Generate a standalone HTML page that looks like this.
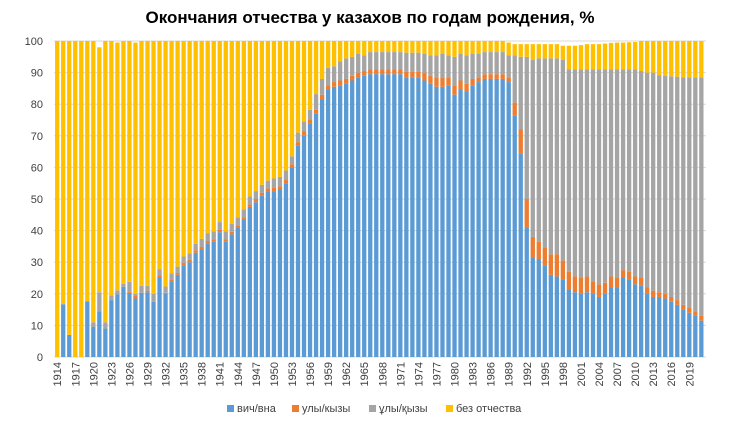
<!DOCTYPE html>
<html><head><meta charset="utf-8"><style>
html,body{margin:0;padding:0;background:#fff;}
svg{display:block;font-family:"Liberation Sans",sans-serif;}
</style></head><body>
<svg id="c" width="740" height="422" viewBox="0 0 740 422" xmlns="http://www.w3.org/2000/svg">
<text x="370" y="23" text-anchor="middle" font-size="17" font-weight="bold" fill="#000">Окончания отчества у казахов по годам рождения, %</text>
<g id="grid"></g><g id="bars"></g><g id="labels"></g>
<g font-size="11" fill="#404040">
<rect x="227" y="405" width="7" height="7" fill="#5B9BD5"/><text x="237" y="412">вич/вна</text>
<rect x="292" y="405" width="7" height="7" fill="#ED7D31"/><text x="302" y="412">улы/кызы</text>
<rect x="369" y="405" width="7" height="7" fill="#A5A5A5"/><text x="379" y="412">ұлы/қызы</text>
<rect x="446" y="405" width="7" height="7" fill="#FFC000"/><text x="456" y="412">без отчества</text>
</g>
</svg>
<script>
var D=[[0,0,0,100],[16.7,0,0,100],[7,0,0,100],[0,0,0,100],[0,0,0,100],[17.6,0,0,100],[9.5,0,1.5,100],[14.5,0,6,98],[9,0,2,100],[18,0,1.5,100],[19.8,0,1.3,99.5],[22.2,0,1,100],[20.3,.5,3,100],[18.5,1,.5,99.5],[20.3,0,2.2,100],[20.5,.5,1.5,100],[17.5,0,2.5,100],[25.3,.5,2,100],[20,.3,2,100],[24,.5,2,100],[26,.6,2,100],[29,.8,2,100],[30,.8,2,100],[33,.8,2,100],[34,.8,2.6,100],[36,.7,2.5,100],[36.5,.8,2.5,100],[39.5,.7,2.5,100],[36.5,.8,2.5,100],[38.8,.8,2.5,100],[41,.7,2.5,100],[43.5,.7,2.5,100],[47.5,.8,2.5,100],[49,1,2.5,100],[51,1,2.5,100],[52.5,.8,2.5,100],
[52.5,1,3,100],[53,1,3,100],[55,1,3,100],[60,1,2.5,100],[67,1,3,100],[70,1.5,3,100],[74,1.2,3,100],[77,1.2,5,100],[81.5,1.5,5,100],[84.5,1.5,5.5,100],[85.5,1.5,5,100],[86,1.5,6,100],[86.5,1.5,6.5,100],[87.5,1.5,6,100],[88.5,1.5,6,100],[89,1.5,5,100],
[89.5,1.5,5.5,100],[89.5,1.5,5.5,100],[89.5,1.5,5.5,100],[89.5,1.5,5.5,100],[89.5,1.5,5.5,100],[89.5,1.5,5.5,100],[88.5,1.8,6,100],[88.5,1.8,6,100],[88.5,1.8,6,100],[87.5,2.5,6,100],[86.5,2.5,6.5,100],[85.5,3,7,100],[85.5,3,7.5,100],[86,2.5,7,100],[83,3,9,100],[84.5,3,8.5,100],[84,2.5,9,100],[86,2,8,100],[87,1.5,7.5,100],[88,1.5,7,100],[88,1.5,7,100],[88,1.5,7,100],[88,1.5,7,100],[87,1.5,7,99.5],
[76.5,4,15,99],[64.5,7.5,23,99],[41,9,45,99],[31.5,6.5,56,99],[31,5.5,58,99],[29,5.5,60,99],[26,6.5,62,99],[25.5,7,62,99],[24.5,6,63.5,98.5],[21.5,5.5,64,98.5],[20.5,5,65.5,98.5],[20,5,66,98.7],[20.5,5,65.5,99],[20,4,67,99],[19,4,68,99],[20,3.5,67.5,99.2],[22,3.5,65.5,99.4],[22,3,66,99.5],[25,2.5,63.5,99.5],[24.5,2.5,64,99.6],[23,2.5,65.5,99.7],[22.5,2.5,65.5,100],[20,2,68,100],[19,2,69,100],[19,1.5,68.7,100],[18.5,1.5,69,100],[17.5,1.5,69.8,100],[16.5,1.5,70.7,100],[15,1.5,72,100],[14,1.5,73,100],[13,1.5,74,100],[11.5,1.5,75.5,100]];
var NS="http://www.w3.org/2000/svg",y0=357,k=3.16;
function el(p,t,a,tx){var e=document.createElementNS(NS,t);for(var n in a)e.setAttribute(n,a[n]);if(tx!=null)e.textContent=tx;document.getElementById(p).appendChild(e);}
for(var v=0;v<=100;v+=10){var y=y0-v*k;el('grid','line',{x1:54,x2:706,y1:y,y2:y,stroke:'#D9D9D9','stroke-width':1});el('grid','text',{x:43,y:y+4,'text-anchor':'end','font-size':11,fill:'#404040'},v);}
var cols=['#5B9BD5','#ED7D31','#A5A5A5','#FFC000'],w=4.3;
for(var i=0;i<D.length;i++){var d=D[i],cx=57.2+i*6.02,acc=0;var vals=[d[0],d[1],d[2],Math.max(0,d[3]-d[0]-d[1]-d[2])];
for(var j=0;j<4;j++){if(vals[j]>0){el('bars','rect',{x:cx-w/2,y:y0-(acc+vals[j])*k,width:w,height:vals[j]*k,fill:cols[j]});}acc+=vals[j];}
if(i%3==0){var yr=1914+i;el('labels','text',{x:0,y:0,transform:'translate('+(cx+4)+',362) rotate(-90)','text-anchor':'end','font-size':11,fill:'#404040'},yr);}}
</script>
</body></html>
